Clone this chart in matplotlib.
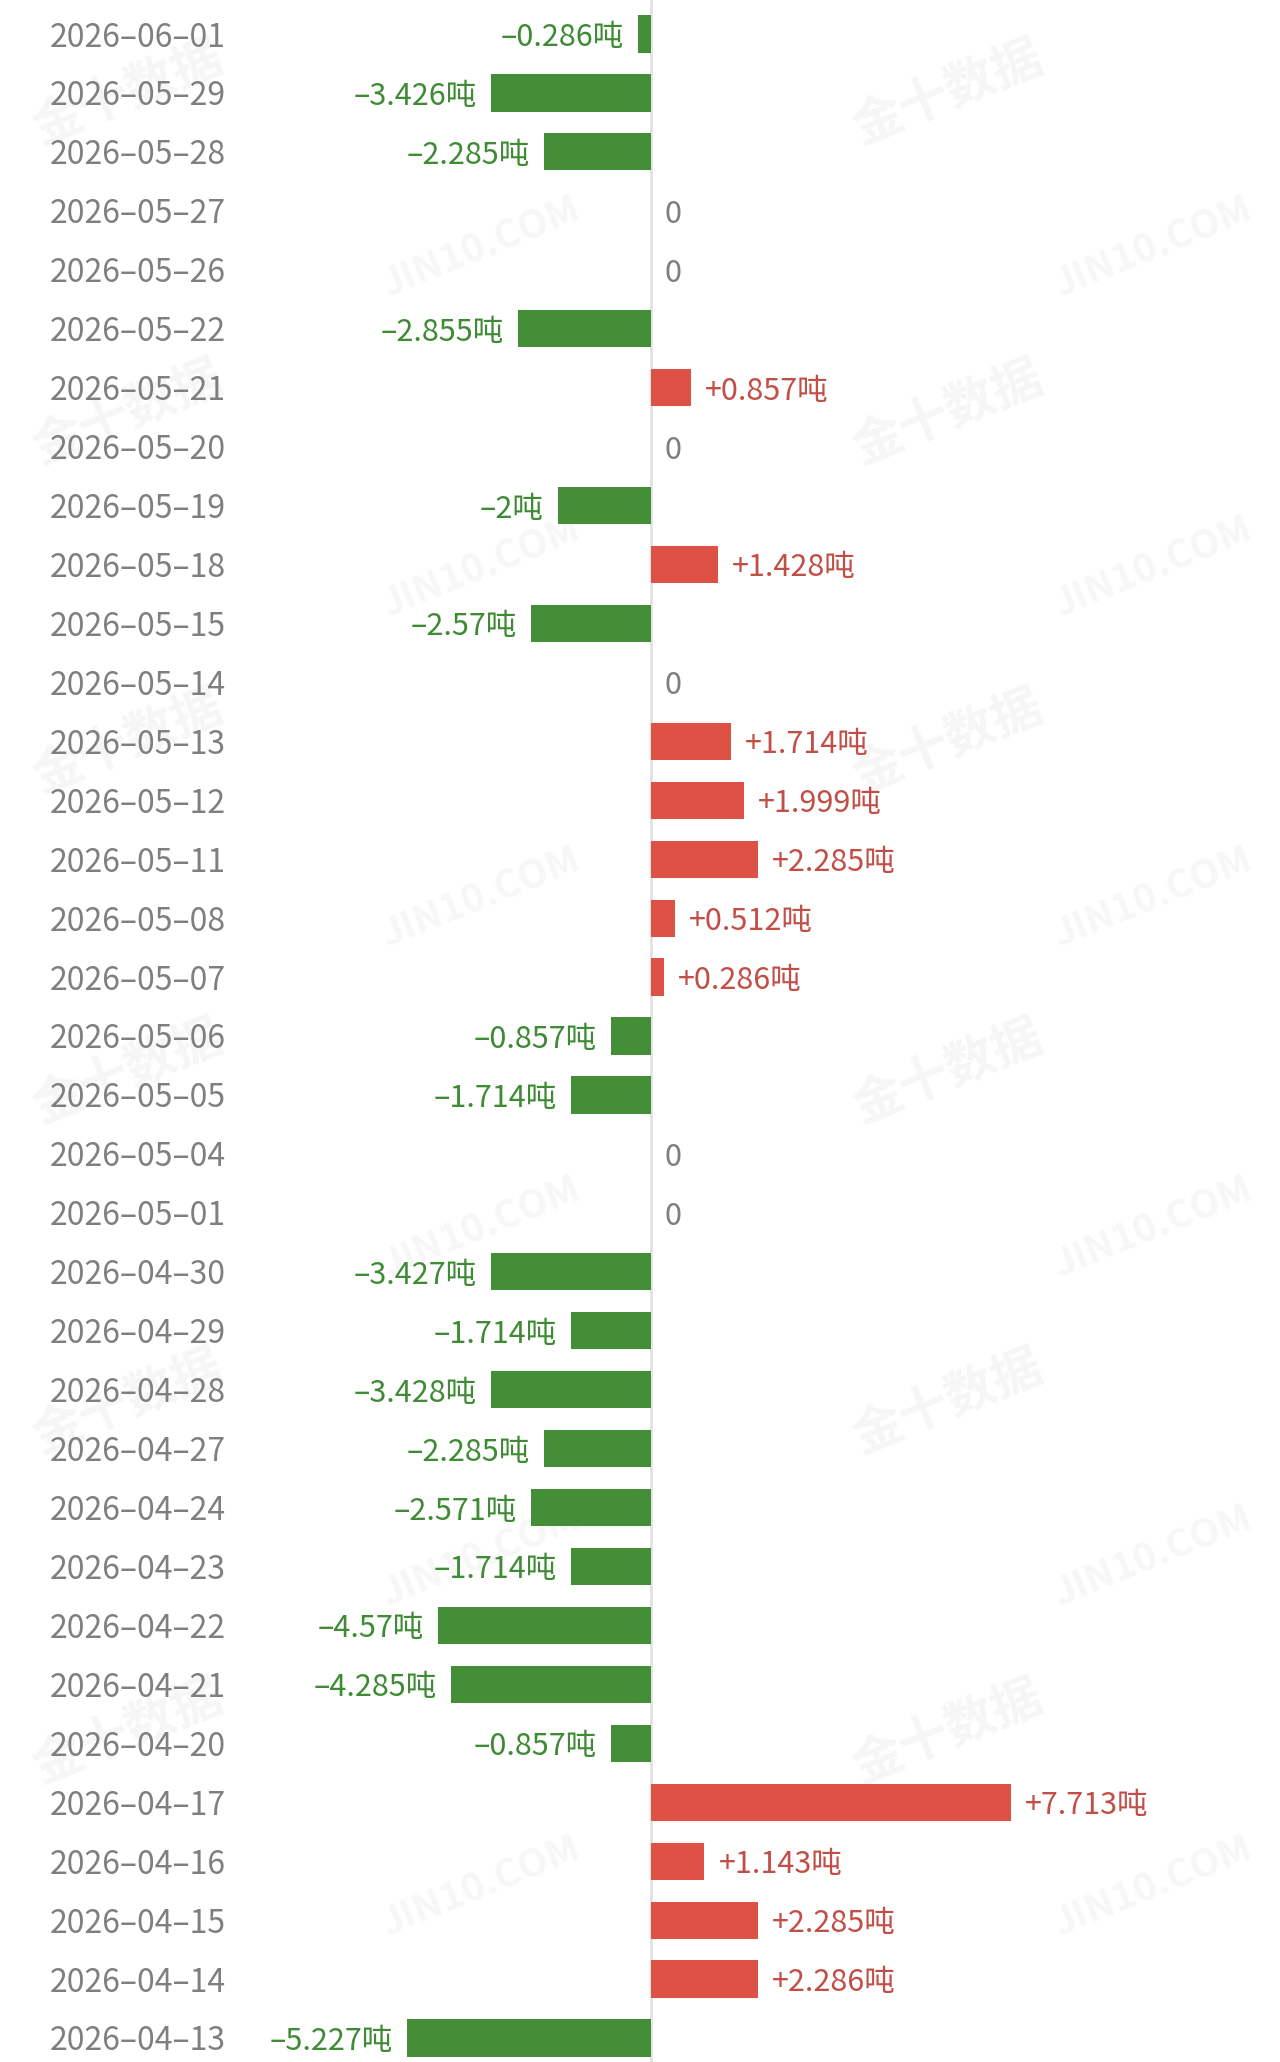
import matplotlib
matplotlib.use('Agg')
import matplotlib.pyplot as plt
import numpy as np

plt.rcParams['font.family'] = ['Noto Sans CJK SC', 'DejaVu Sans']

# ==============================
# DATA (top row first)
# ==============================
dates = [
    '2026-06-01', '2026-05-29', '2026-05-28', '2026-05-27', '2026-05-26',
    '2026-05-22', '2026-05-21', '2026-05-20', '2026-05-19', '2026-05-18',
    '2026-05-15', '2026-05-14', '2026-05-13', '2026-05-12', '2026-05-11',
    '2026-05-08', '2026-05-07', '2026-05-06', '2026-05-05', '2026-05-04',
    '2026-05-01', '2026-04-30', '2026-04-29', '2026-04-28', '2026-04-27',
    '2026-04-24', '2026-04-23', '2026-04-22', '2026-04-21', '2026-04-20',
    '2026-04-17', '2026-04-16', '2026-04-15', '2026-04-14', '2026-04-13',
]
changes = [
    -0.286, -3.426, -2.285, 0, 0,
    -2.855, 0.857, 0, -2, 1.428,
    -2.57, 0, 1.714, 1.999, 2.285,
    0.512, 0.286, -0.857, -1.714, 0,
    0, -3.427, -1.714, -3.428, -2.285,
    -2.571, -1.714, -4.57, -4.285, -0.857,
    7.713, 1.143, 2.285, 2.286, -5.227,
]
unit = '吨'

GREEN_BAR = '#438E37'
RED_BAR = '#DD5245'
GREEN_TXT = '#3F8A35'
RED_TXT = '#C24F47'
GRAY_TXT = '#7F7F7F'

W, H = 1280, 2062
fig = plt.figure(figsize=(W / 100, H / 100), dpi=100)
fig.patch.set_facecolor('white')

# axes placed in pixel terms: zero line ~651px, ~46.7 px per unit
left_px = 240
ax = fig.add_axes([left_px / W, 0, 1 - left_px / W, 1])
zero_px, px_per_unit = 651, 46.7
ax.set_xlim((left_px - zero_px) / px_per_unit, (W - zero_px) / px_per_unit)

n = len(dates)
row_top, row_bot = 34, 2038
spacing = (row_bot - row_top) / (n - 1)
ax.set_ylim((n - 1) + (H - row_bot) / spacing, -row_top / spacing)

# --- watermarks (very faint, behind everything) ---
for yy in [0.045, 0.20, 0.36, 0.52, 0.68, 0.84]:
    for xx in [0.10, 0.74]:
        fig.text(xx, 1 - yy, '金十数据', fontsize=36, color='#F6F6F6', rotation=22,
                 ha='center', va='center', fontweight='bold', zorder=-5)
    for xx in [0.375, 0.90]:
        fig.text(xx, 1 - yy - 0.075, 'JIN10.COM', fontsize=28, color='#F7F7F7', rotation=22,
                 ha='center', va='center', fontweight='bold', zorder=-5)

y = np.arange(n)
vals = np.array(changes)
colors = [RED_BAR if v > 0 else GREEN_BAR for v in vals]
ax.barh(y, vals, height=0.63, color=colors, zorder=3)

ax.axvline(0, color='#E2E2E2', linewidth=2, zorder=2)

# value labels
off = 14 / px_per_unit
for yi, v in zip(y, vals):
    if v > 0:
        ax.text(v + off, yi, f'+{v:g}{unit}', ha='left', va='center_baseline',
                fontsize=22, color=RED_TXT, zorder=4)
    elif v < 0:
        ax.text(v - off, yi, f'–{abs(v):g}{unit}', ha='right', va='center_baseline',
                fontsize=22, color=GREEN_TXT, zorder=4)
    else:
        ax.text(off, yi, '0', ha='left', va='center_baseline',
                fontsize=22, color=GRAY_TXT, zorder=4)

ax.set_yticks(y)
ax.set_yticklabels([d.replace('-', '–') for d in dates], fontsize=23, color=GRAY_TXT)
ax.tick_params(axis='y', length=0, pad=10)
ax.tick_params(axis='x', length=0, labelbottom=False)
for s in ax.spines.values():
    s.set_visible(False)
ax.set_facecolor('none')

fig.savefig('out.png', dpi=100, facecolor='white')
